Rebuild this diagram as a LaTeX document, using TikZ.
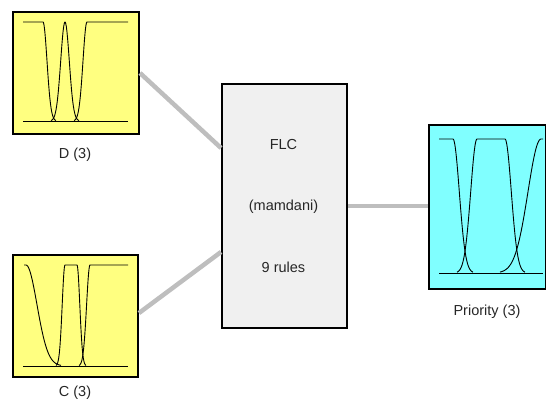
\documentclass[tikz,border=0pt]{standalone}
\usepackage{fontspec}
\setmainfont{Liberation Sans}
\usetikzlibrary{calc}
\definecolor{mfyellow}{HTML}{FFFF80}
\definecolor{mfcyan}{HTML}{80FFFF}
\definecolor{flcgray}{HTML}{F0F0F0}
\definecolor{linkgray}{HTML}{BEBEBE}
\begin{document}
\begin{tikzpicture}[x=1pt,y=-1pt,
  varbox/.style={draw=black,line width=2pt,anchor=north west,inner sep=0pt},
  lbl/.style={font=\fontsize{14.5}{17}\selectfont,text=black!85,inner sep=0pt},
  link/.style={draw=linkgray,line width=4.5pt},
  mf/.style={draw=black,line width=0.9pt,line join=round}]
\useasboundingbox (0,0) rectangle (546,403);
% boxes
\node[varbox,fill=mfyellow,minimum width=126pt,minimum height=122pt] (D) at (12,11) {};
\node[varbox,fill=mfyellow,minimum width=125pt,minimum height=122pt] (C) at (12,254) {};
\node[varbox,fill=flcgray,minimum width=125pt,minimum height=244pt] (F) at (221,83) {};
\node[varbox,fill=mfcyan,minimum width=117pt,minimum height=164pt] (P) at (428,124) {};
% labels
\node[lbl] (Dl) at (75,155) {D (3)};
\node[lbl] (Cl) at (75,393) {C (3)};
\node[lbl] (Pl) at (487,312) {Priority (3)};
\node[lbl] (F1) at (283.5,145) {FLC};
\node[lbl] (F2) at (283.5,207) {(mamdani)};
\node[lbl] (F3) at (283.5,267) {9 rules};
% connectors
\coordinate (Dout) at ([yshift=-62pt]D.north east);
\coordinate (Fin1) at ([yshift=-65pt]F.north west);
\coordinate (Cout) at ([yshift=-59pt]C.north east);
\coordinate (Fin2) at ([yshift=-169pt]F.north west);
\coordinate (Fout) at ([yshift=-123pt]F.north east);
\coordinate (Pin) at ([yshift=-82pt]P.north west);
\draw[link] (Dout) -- (Fin1);
\draw[link] (Cout) -- (Fin2);
\draw[link] (Fout) -- (Pin);
% D membership functions: top 22, bottom 121
\draw[mf] (23,121) -- (128,121);
\draw[mf] (23,22) -- (43,22) -- plot[domain=43:56,samples=30] (\x,{121-99*exp(-((\x-43)/4)^2/2)});
\draw[mf] plot[domain=51:79,samples=50] (\x,{121-99*exp(-((\x-65)/4.3)^2/2)});
\draw[mf] plot[domain=74:87,samples=30] (\x,{121-99*exp(-((\x-87)/4)^2/2)}) -- (128,22);
% C membership functions: top 265, bottom 366
\draw[mf] (23,366) -- (128,366);
\draw[mf] (24,265) -- plot[domain=26:61,samples=40] (\x,{366-101*exp(-((\x-26)/11)^2/2)});
\draw[mf] plot[domain=56:65,samples=25] (\x,{366-101*exp(-((\x-65)/2.8)^2/2)}) -- (77,265) -- plot[domain=77:86,samples=25] (\x,{366-101*exp(-((\x-77)/2.8)^2/2)});
\draw[mf] plot[domain=79:90,samples=25] (\x,{366-101*exp(-((\x-90)/3.4)^2/2)}) -- (128,265);
% Priority membership functions: top 139, bottom 273
\draw[mf] (439,273) -- (543,273);
\draw[mf] (439,139) -- (453,139) -- plot[domain=453:473,samples=30] (\x,{273-134*exp(-((\x-453)/6.3)^2/2)});
\draw[mf] plot[domain=457:477,samples=30] (\x,{273-134*exp(-((\x-477)/6.3)^2/2)}) -- (505,139) -- plot[domain=505:525,samples=30] (\x,{273-134*exp(-((\x-505)/6.3)^2/2)});
\draw[mf] plot[domain=500:541,samples=40] (\x,{273-134*exp(-((\x-541)/13)^2/2)}) -- (543,139);
\end{tikzpicture}
\end{document}
